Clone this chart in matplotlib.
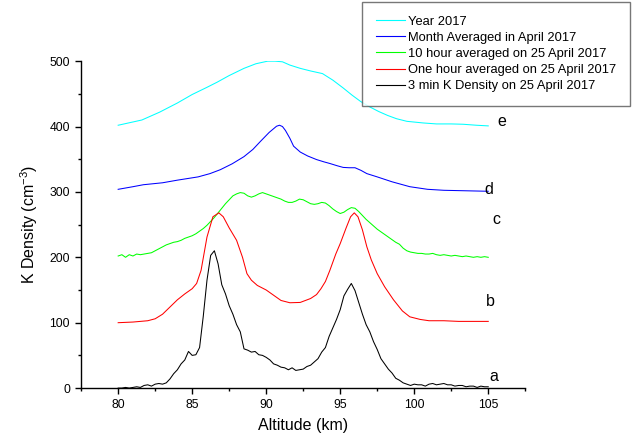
import numpy as np
import matplotlib
matplotlib.use("Agg")
import matplotlib.pyplot as plt
from matplotlib.ticker import MultipleLocator

plt.rcParams["font.family"] = ["Liberation Sans", "DejaVu Sans"]
plt.rcParams["mathtext.fontset"] = "custom"
plt.rcParams["mathtext.rm"] = "Liberation Sans"

# e: yearly mean 2017
alt_year = [80, 81.6, 82.8, 84, 85, 86, 86.7, 87.5, 88.5, 89.3, 90.1, 90.6, 91.1, 91.6,
            92.3, 93.0, 93.8, 94.5, 95.2, 95.8, 96.4, 97.0, 97.6, 98.2, 98.8, 99.5,
            100.6, 101.5, 102.5, 103.3, 104.2, 105]
k_year = [402, 410, 422, 436, 449, 460, 468, 478, 489, 496, 500, 500, 499, 494,
          489, 485, 481, 471, 459, 448, 438, 430, 423, 417, 412, 408,
          405.5, 404, 404, 403.5, 402, 401]

# d: monthly mean April 2017
alt_month = [80, 81, 81.7, 83, 84, 85.4, 86.2, 86.9, 87.7, 88.5, 89.1, 89.6, 90.2, 90.7,
             90.9, 91.1, 91.3, 91.6, 91.85, 92.3, 92.8, 93.4, 93.9, 94.3, 94.8, 95.2,
             95.6, 96.0, 96.4, 96.8, 97.5, 98.5, 99.7, 100.9, 102, 103, 104, 105]
k_month = [304, 308, 311, 314, 318, 323, 328, 334, 343, 354, 365, 377, 391, 400.5,
           402, 400, 394, 382, 370, 361, 355, 349.5, 346, 343.5, 340, 337.5,
           337, 337, 333, 328, 323, 315.5, 308, 304, 302.5, 302, 301.5, 301]

# c: 10 hour average 25 April 2017 (0.25 km steps)
k_10h = [202, 204, 200, 204, 202, 205, 204, 205, 206, 207, 210, 213, 216, 219, 221, 223,
         224, 226, 229, 231, 233, 236, 240, 244, 249, 255, 261, 268, 275, 282, 288, 294,
         297, 299, 298, 294, 292, 294, 297, 299, 297, 295, 293, 291, 289, 286, 284, 284,
         286, 289, 288, 285, 282, 281, 282, 284, 283, 279, 274, 270, 267, 269, 273, 276,
         275, 270, 264, 258, 253, 248, 243, 239, 235, 231, 227, 223, 220, 214, 210, 208,
         207, 206, 206, 205, 205, 206, 204, 203, 204, 203, 202, 203, 202, 201, 202, 201,
         200, 201, 200, 201, 200]

# b: one hour average 25 April 2017
alt_1h = [80, 81, 82, 82.5, 83, 83.5, 84, 84.5, 85, 85.3, 85.6, 86.0, 86.4, 86.8, 87.1,
          87.5, 88.0, 88.4, 88.7, 89.0, 89.4, 90.0, 90.5, 91.0, 91.6, 92.3, 93.0, 93.4,
          93.7, 94.0, 94.3, 94.7, 95.0, 95.4, 95.7, 95.95, 96.2, 96.5, 96.8, 97.1, 97.5,
          98.0, 98.6, 99.2, 99.7, 100.4, 101, 102, 103, 104, 105]
k_1h = [100, 101, 103, 106, 113, 124, 135, 144, 152, 160, 180, 231, 262, 268, 262,
        245, 226, 200, 175, 165, 157, 150, 142, 134, 130.5, 131, 137, 143,
        152, 163, 180, 205, 221, 245, 262, 268, 262, 242, 216, 196, 175,
        155, 135, 118, 109, 105, 103, 103, 102, 102, 102]

# a: 3 min K density 25 April 2017 (0.25 km steps)
k_3min = [0, 0, 1, 0, 1, 2, 1, 4, 5, 3, 6, 7, 6, 8, 14, 22,
          28, 37, 43, 56, 50, 51, 62, 110, 165, 203, 210, 190, 158, 144, 126, 113,
          97, 86, 60, 58, 55, 56, 51, 50, 47, 43, 37, 35, 32, 31, 28, 31,
          27, 28, 29, 33, 35, 40, 45, 55, 62, 79, 92, 105, 120, 141, 151, 160,
          149, 131, 113, 97, 86, 71, 59, 45, 37, 29, 23, 15, 12, 8, 6, 4,
          6, 5, 5, 3, 6, 7, 5, 6, 7, 5, 5, 3, 4, 4, 2, 3,
          3, 1, 3, 2, 2]

alt_fine = np.linspace(80, 105, len(k_3min))

fig = plt.figure(figsize=(6.39, 4.40), dpi=100)
ax = fig.add_axes([0.127, 0.118, 0.695, 0.743])

lw = 0.75
ax.plot(alt_year, k_year, color="#00ffff", lw=lw, label="Year 2017")
ax.plot(alt_month, k_month, color="#0000ff", lw=lw, label="Month Averaged in April 2017")
ax.plot(alt_fine, k_10h, color="#00ff00", lw=lw, label="10 hour averaged on 25 April 2017")
ax.plot(alt_1h, k_1h, color="#ff0000", lw=lw, label="One hour averaged on 25 April 2017")
ax.plot(alt_fine, k_3min, color="#000000", lw=lw, label="3 min K Density on 25 April 2017")

# curve tags on the right
for tag, x, y in [("a", 105.05, 17), ("b", 104.85, 132), ("c", 105.25, 258),
                  ("d", 104.75, 303), ("e", 105.65, 407)]:
    ax.text(x, y, tag, fontsize=11.5, ha="left", va="center")

ax.set_xlim(77.5, 107.5)
ax.set_ylim(0, 500)
ax.xaxis.set_major_locator(MultipleLocator(5))
ax.xaxis.set_minor_locator(MultipleLocator(2.5))
ax.yaxis.set_major_locator(MultipleLocator(100))
ax.yaxis.set_minor_locator(MultipleLocator(50))
ax.set_xticks([80, 85, 90, 95, 100, 105])
ax.tick_params(which="major", direction="out", length=4.5, width=1, labelsize=8.7, pad=3.5)
ax.tick_params(which="minor", direction="out", length=2.5, width=1)
ax.spines["top"].set_visible(False)
ax.spines["right"].set_visible(False)
for s in ("left", "bottom"):
    ax.spines[s].set_linewidth(1)

ax.set_xlabel("Altitude (km)", fontsize=11.5, labelpad=5)
ax.set_ylabel("K Density (cm$^{-3}$)", fontsize=11.5, labelpad=7)

leg = ax.legend(loc="upper left", bbox_to_anchor=(362 / 639, 1 - 2 / 440),
                bbox_transform=fig.transFigure, fontsize=9.3, frameon=True,
                fancybox=False, edgecolor="#555555", handlelength=2.25,
                handletextpad=0.3, labelspacing=0.32, borderpad=1.05,
                borderaxespad=0)
leg.get_frame().set_linewidth(1)
for h in leg.get_lines():
    h.set_linewidth(0.8)

fig.savefig("out.png", dpi=100)
